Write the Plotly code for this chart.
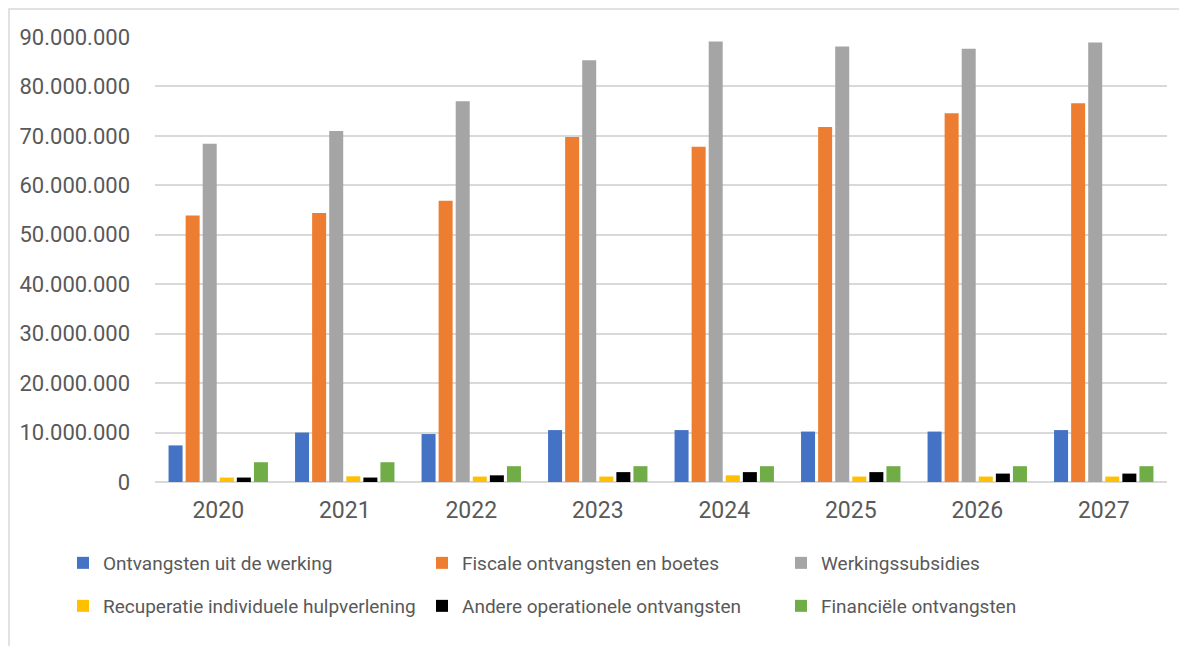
import plotly.graph_objects as go

years = ["2020", "2021", "2022", "2023", "2024", "2025", "2026", "2027"]

series_names = [
    "Ontvangsten uit de werking",
    "Fiscale ontvangsten en boetes",
    "Werkingssubsidies",
    "Recuperatie individuele hulpverlening",
    "Andere operationele ontvangsten",
    "Financiële ontvangsten",
]

ontvangsten_werking = [7400000, 10000000, 9700000, 10500000, 10500000, 10200000, 10200000, 10500000]
fiscale_ontvangsten = [53900000, 54400000, 56900000, 69800000, 67800000, 71800000, 74600000, 76600000]
werkingssubsidies = [68400000, 71000000, 77000000, 85300000, 89100000, 88100000, 87600000, 88900000]
recuperatie = [900000, 1150000, 1100000, 1100000, 1350000, 1100000, 1100000, 1100000]
andere_operationele = [900000, 900000, 1350000, 2000000, 2000000, 2000000, 1700000, 1700000]
financiele = [4000000, 4000000, 3200000, 3200000, 3200000, 3200000, 3200000, 3200000]

colors = ["#4472C4", "#ED7D31", "#A5A5A5", "#FFC000", "#000000", "#70AD47"]
values = [ontvangsten_werking, fiscale_ontvangsten, werkingssubsidies,
          recuperatie, andere_operationele, financiele]

fig = go.Figure()
for i, (name, vals, col) in enumerate(zip(series_names, values, colors)):
    fig.add_trace(go.Bar(
        x=years, y=vals, name=name,
        marker=dict(color=col, line=dict(width=0)),
        legend="legend" if i < 3 else "legend2",
    ))

# page has an 8px body margin; figure is sized/positioned to compensate
OFF = 8
W, H = 1187 - OFF, 646 - OFF
# desired plot area in page pixels: x 155..1167, y 37..482
L = 155 - OFF
T = 37 - OFF
R = W - (1167 - OFF)
B = H - (482 - OFF)
pw, ph = W - L - R, H - T - B

def px_x(x_page):
    return ((x_page - OFF) - L) / pw

def px_y(y_page):
    return (H - B - (y_page - OFF)) / ph

text_col = "#595959"
font_family = "Roboto, 'Noto Sans', sans-serif"

legend_common = dict(
    orientation="h",
    xanchor="left",
    yanchor="middle",
    x=px_x(63),
    entrywidth=314,
    entrywidthmode="pixels",
    font=dict(size=19, color=text_col, family=font_family),
    bgcolor="rgba(0,0,0,0)",
    itemsizing="constant",
    traceorder="normal",
)

fig.update_layout(
    width=W, height=H,
    margin=dict(l=L, r=R, t=T, b=B, autoexpand=False),
    paper_bgcolor="white",
    plot_bgcolor="white",
    separators=",.",
    barmode="group",
    bargap=0.19,
    bargroupgap=0.18,
    font=dict(family=font_family, color=text_col),
    showlegend=True,
    legend=dict(legend_common, y=px_y(563)),
    legend2=dict(legend_common, y=px_y(606)),
    xaxis=dict(
        showgrid=False,
        showline=False,
        ticks="",
        tickfont=dict(size=23, color=text_col),
        ticklabelstandoff=12,
    ),
    yaxis=dict(
        range=[0, 90000000],
        tickvals=[0, 10000000, 20000000, 30000000, 40000000, 50000000,
                  60000000, 70000000, 80000000, 90000000],
        tickformat=",d",
        showgrid=True,
        gridcolor="#D9D9D9",
        gridwidth=2,
        zeroline=True,
        zerolinecolor="#D9D9D9",
        zerolinewidth=2,
        showline=False,
        ticks="",
        tickfont=dict(size=22, color=text_col),
        ticklabelstandoff=24,
    ),
    shapes=[dict(
        type="rect", xref="paper", yref="paper",
        x0=px_x(OFF + 1), x1=px_x(1210), y0=px_y(670), y1=px_y(OFF + 1),
        line=dict(color="#D9D9D9", width=1.5),
        fillcolor="rgba(0,0,0,0)",
        layer="below",
    )],
)

fig.write_html("out.html")
